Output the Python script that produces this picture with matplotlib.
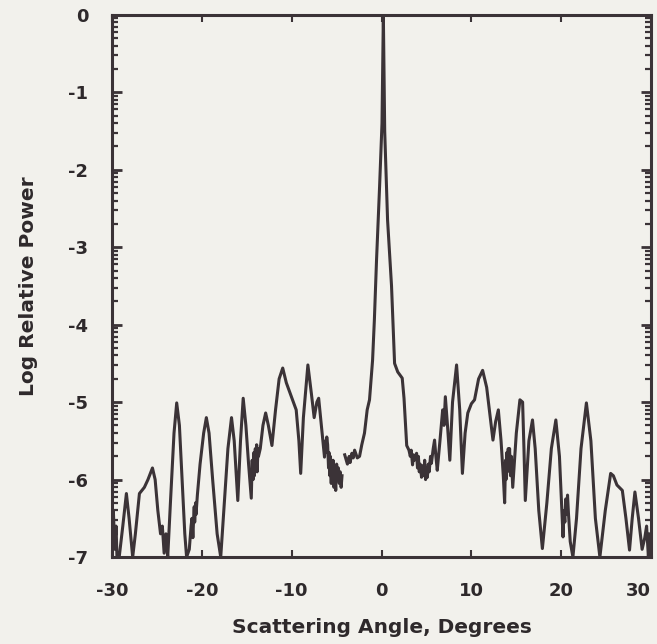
import matplotlib
matplotlib.use("Agg")
import matplotlib.pyplot as plt
import numpy as np
from matplotlib.ticker import FixedLocator, FuncFormatter

# scattering angle (degrees) and log relative power
angle = [
    -30.0, -29.85, -29.7, -29.55, -29.45, -29.2, -28.8, -28.4, -28.1, -27.7,
    -27.4, -26.95, -26.4, -26.0, -25.5, -25.2, -24.9, -24.6, -24.4, -24.2,
    -24.0, -23.8, -23.5, -23.1, -22.8, -22.5, -22.2, -21.9, -21.7, -21.4,
    -21.2, -21.1, -21.0, -20.95, -20.85, -20.8, -20.7, -20.65, -20.5, -20.2,
    -19.8, -19.5, -19.2, -18.8, -18.3, -17.9, -17.5, -17.1, -16.7, -16.4,
    -16.0, -15.7, -15.4, -15.1, -14.8, -14.5, -14.4, -14.3, -14.2, -14.15,
    -14.05, -14.0, -13.9, -13.85, -13.75, -13.7, -13.5, -13.2, -12.9, -12.6,
    -12.2, -11.8, -11.4, -11.0, -10.6, -10.0, -9.5, -9.2, -9.0, -8.7,
    -8.2, -7.8, -7.5, -7.2, -7.0, -6.7, -6.35, -6.25, -6.2, -6.1,
    -6.0, -5.9, -5.85, -5.75, -5.7, -5.6, -5.55, -5.45, -5.4, -5.3,
    -5.2, -5.1, -5.0, -4.9, -4.8, -4.7, -4.6, -4.5, -4.4, np.nan,
    -4.1, -3.8, -3.6, -3.5, -3.3, -3.15, -3.0, -2.7, -2.45, -2.2,
    -1.9, -1.6, -1.34, -1.0, -0.8, -0.56, -0.22, 0.05, 0.2, 0.35,
    0.67, 1.11, 1.45, 1.8, 2.3, 2.5, 2.8, 3.05, 3.2, 3.3,
    3.45, 3.55, 3.65, 3.9, 4.0, 4.1, 4.2, 4.3, 4.45, 4.6,
    4.7, 4.8, 4.9, 5.0, 5.1, 5.2, 5.3, 5.45, 5.55, 5.75,
    5.9, 6.05, 6.2, 6.5, 6.8, 6.95, 7.1, 7.35, 7.6, 7.9,
    8.35, 8.7, 9.0, 9.3, 9.6, 10.0, 10.35, 10.8, 11.25, 11.7,
    12.1, 12.4, 12.7, 13.0, 13.3, 13.55, 13.7, 13.8, 13.85, 13.95,
    14.0, 14.1, 14.15, 14.25, 14.35, 14.45, 14.6, 15.0, 15.4, 15.7,
    15.85, 16.0, 16.4, 16.8, 17.1, 17.5, 17.9, 18.4, 18.9, 19.4,
    19.8, 20.2, 20.3, 20.4, 20.5, 20.6, 20.7, 20.8, 21.0, 21.3,
    21.7, 22.2, 22.8, 23.3, 23.8, 24.3, 24.9, 25.5, 25.8, 26.2,
    26.8, 27.2, 27.6, 27.9, 28.2, 28.6, 29.0, 29.3, 29.5, 29.7,
    29.8, 29.9, 30.0,
]
log_power = [
    -7.0, -6.4, -6.9, -6.6, -7.0, -7.0, -6.6, -6.18, -6.5, -7.0,
    -6.7, -6.18, -6.1, -6.0, -5.85, -6.0, -6.4, -6.7, -6.6, -6.95,
    -6.7, -7.0, -6.3, -5.4, -5.01, -5.3, -6.0, -6.7, -7.0, -6.9,
    -6.6, -6.5, -6.75, -6.6, -6.35, -6.55, -6.3, -6.45, -6.2, -5.8,
    -5.4, -5.2, -5.4, -6.0, -6.7, -7.0, -6.3, -5.6, -5.2, -5.5,
    -6.27, -5.5, -4.95, -5.3, -5.8, -6.24, -5.75, -6.0, -5.65, -5.95,
    -5.6, -5.85, -5.55, -5.9, -5.6, -5.7, -5.6, -5.3, -5.14, -5.3,
    -5.56, -5.1, -4.7, -4.56, -4.75, -4.94, -5.1, -5.5, -5.92, -5.2,
    -4.52, -4.9, -5.2, -5.0, -4.95, -5.3, -5.71, -5.5, -5.65, -5.45,
    -5.55, -5.85, -5.65, -5.95, -5.7, -6.05, -5.8, -6.0, -5.75, -6.1,
    -5.9, -6.14, -5.8, -6.0, -5.85, -6.05, -5.9, -6.1, -5.95, np.nan,
    -5.68, -5.8, -5.7, -5.78, -5.66, -5.72, -5.62, -5.72, -5.7, -5.55,
    -5.4, -5.1, -4.97, -4.46, -3.94, -3.17, -2.22, -1.4, 0.0, -1.5,
    -2.65, -3.5, -4.5, -4.61, -4.69, -4.95, -5.56, -5.62, -5.7, -5.62,
    -5.81, -5.68, -5.75, -5.66, -5.85, -5.7, -5.9, -5.8, -5.97, -5.82,
    -5.95, -5.75, -6.0, -5.85, -5.97, -5.8, -5.9, -5.7, -5.79, -5.6,
    -5.49, -5.7, -5.88, -5.5, -5.10, -5.3, -4.93, -5.32, -5.75, -5.0,
    -4.52, -5.1, -5.92, -5.4, -5.14, -5.02, -4.97, -4.7, -4.59, -4.81,
    -5.2, -5.49, -5.25, -5.10, -5.5, -5.95, -6.30, -5.75, -6.0, -5.65,
    -5.9, -5.6, -5.85, -5.6, -5.95, -5.7, -6.10, -5.4, -4.97, -5.0,
    -5.6, -6.27, -5.5, -5.23, -5.6, -6.4, -6.89, -6.3, -5.6, -5.23,
    -5.7, -6.74, -6.4, -6.55, -6.25, -6.45, -6.2, -6.43, -6.8, -7.0,
    -6.5, -5.6, -5.01, -5.5, -6.5, -7.0, -6.4, -5.92, -5.95, -6.07,
    -6.14, -6.5, -6.91, -6.5, -6.16, -6.5, -6.9, -6.75, -6.6, -7.0,
    -6.7, -6.95, -6.8,
]

x_ticks = [-30, -20, -10, 0, 10, 20, 30]
y_ticks = [-7, -6, -5, -4, -3, -2, -1, 0]

ink = "#3b3337"
text_ink = "#2e292b"
paper = "#f2f1ec"

fig = plt.figure(figsize=(6.57, 6.44), dpi=100, facecolor=paper)
ax = fig.add_axes([0.1705, 0.135, 0.8205, 0.842], facecolor=paper)

ax.plot(angle, log_power, color=ink, linewidth=2.2, solid_joinstyle="round")

ax.set_xlim(-30, 30)
ax.set_ylim(-7, 0)

# log-style minor ticks inside each decade
minor = [d + np.log10(m) for d in range(-7, 0) for m in range(2, 10)]
ax.xaxis.set_major_locator(FixedLocator(x_ticks))
ax.yaxis.set_major_locator(FixedLocator(y_ticks))
ax.yaxis.set_minor_locator(FixedLocator(minor))
ax.xaxis.set_major_formatter(FuncFormatter(lambda v, p: "%d" % v))
ax.yaxis.set_major_formatter(FuncFormatter(lambda v, p: "%d" % v))

ax.tick_params(axis="x", which="major", direction="in", length=5, width=1.5,
               top=True, color=ink, pad=18)
ax.tick_params(axis="y", which="major", direction="in", length=7, width=2.0,
               right=True, color=ink, pad=17)
ax.tick_params(axis="y", which="minor", direction="in", length=4.5, width=1.6,
               right=True, color=ink)
for lab in ax.get_xticklabels() + ax.get_yticklabels():
    lab.set_fontweight("bold")
    lab.set_fontsize(13)
    lab.set_color(text_ink)
# the last label sits against the right edge, as in the scan
ax.get_xticklabels()[-1].set_horizontalalignment("right")

for s in ax.spines.values():
    s.set_color(ink)
    s.set_linewidth(2.2)

ax.set_xlabel("Scattering Angle, Degrees", fontsize=14.5, fontweight="bold",
              color=text_ink, labelpad=13)
ax.set_ylabel("Log Relative Power", fontsize=14.5, fontweight="bold",
              color=text_ink, labelpad=22)

fig.savefig("out.png", dpi=100, facecolor=paper)
